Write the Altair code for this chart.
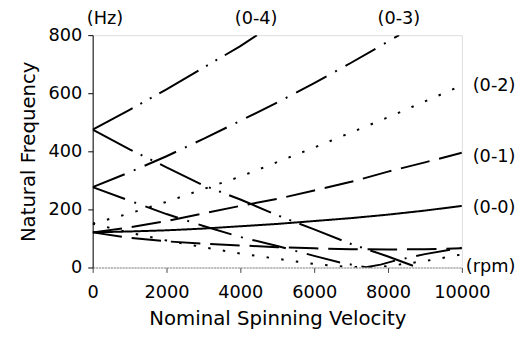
import altair as alt
import pandas as pd

# ---- data ----
modes = ["(0-0)", "(0-1)", "(0-2)", "(0-3)", "(0-4)"]

f00_x = [0, 1000, 2000, 3000, 4000, 5000, 6000, 7000, 8000, 9000, 10000]
f00_y = [121, 124, 128, 134, 142, 150, 160, 170, 182, 196, 212]

f01_x = [0, 1000, 2000, 3000, 4000, 5000, 6000, 7000, 8000, 9000, 10000]
f01_y = [121, 138, 160, 186, 212, 236, 265, 295, 330, 362, 395]
b01_x = [0, 1000, 2000, 3000, 4000, 5000, 6000, 7000, 8000, 9000, 10000]
b01_y = [121, 102, 90, 82, 76, 70, 66, 63, 62, 63, 66]

f02_x = [0, 1000, 2000, 3000, 4000, 5000, 6000, 7000, 8000, 9000, 10000]
f02_y = [151, 186, 226, 270, 313, 363, 413, 465, 517, 572, 627]
b02_x = [0, 1000, 2000, 3000, 4000, 5000, 6000, 6500, 7000, 7500, 8000, 9000, 10000]
b02_y = [151, 120, 93, 70, 48, 30, 12, 6, 2, 0, 5, 22, 45]

f03_x = [0, 1000, 2000, 3000, 4000, 5000, 6000, 7000, 8000, 8300]
f03_y = [277, 328, 383, 443, 505, 568, 635, 705, 778, 800]
b03_x = [0, 1000, 2000, 3000, 4000, 5000, 6000, 6700, 7400, 7800, 8200, 9000, 10000]
b03_y = [277, 230, 184, 143, 105, 74, 40, 17, 1, 10, 24, 46, 68]

f04_x = [0, 1000, 2000, 3000, 4000, 4450]
f04_y = [475, 543, 613, 688, 762, 800]
b04_x = [0, 1000, 2000, 3000, 4000, 5000, 6000, 7000, 8000, 8800]
b04_y = [475, 407, 345, 283, 234, 180, 131, 81, 38, 0]

x_ticks = [0, 2000, 4000, 6000, 8000, 10000]
y_ticks = [0, 200, 400, 600, 800]

branches = [
    ("(0-0)", "f00", f00_x, f00_y),
    ("(0-1)", "f01", f01_x, f01_y),
    ("(0-1)", "b01", b01_x, b01_y),
    ("(0-2)", "f02", f02_x, f02_y),
    ("(0-2)", "b02", b02_x, b02_y),
    ("(0-3)", "f03", f03_x, f03_y),
    ("(0-3)", "b03", b03_x, b03_y),
    ("(0-4)", "f04", f04_x, f04_y),
    ("(0-4)", "b04", b04_x, b04_y),
]
rows = []
for mode, br, xs, ys in branches:
    for i, (xv, yv) in enumerate(zip(xs, ys)):
        rows.append({"mode": mode, "branch": br, "order": i, "rpm": xv, "hz": yv})
df = pd.DataFrame(rows)

FONT = "DejaVu Sans"
W, H = 375, 236

lines = alt.Chart(df).mark_line(color="black", strokeWidth=2, strokeCap="butt", clip=True).encode(
    x=alt.X("rpm:Q", scale=alt.Scale(domain=[0, 10000], nice=False),
            axis=alt.Axis(values=x_ticks, format="d", title="Nominal Spinning Velocity",
                          grid=False, domainColor="#888", domainDash=[2, 1], tickColor="#444",
                          tickSize=5, labelFontSize=18, titleFontSize=20, labelPadding=11,
                          titlePadding=8, labelFont=FONT, titleFont=FONT, labelColor="black",
                          titleColor="black", titleFontWeight="normal",
                          labelOverlap=False, labelFlush=False, labelBound=False)),
    y=alt.Y("hz:Q", scale=alt.Scale(domain=[0, 800], nice=False),
            axis=alt.Axis(values=y_ticks, title="Natural Frequency", grid=False,
                          domainColor="black", tickColor="black", tickSize=5,
                          labelFontSize=18, titleFontSize=20, labelPadding=6,
                          titlePadding=10, labelFont=FONT, titleFont=FONT,
                          labelColor="black", titleColor="black", titleFontWeight="normal",
                          labelOverlap=False, labelFlush=False, labelBound=False)),
    detail="branch:N",
    order="order:Q",
    strokeDash=alt.StrokeDash("mode:N", legend=None,
                              scale=alt.Scale(domain=modes,
                                              range=[[1, 0], [30, 10], [2.5, 12.5],
                                                     [35, 10, 2, 10], [46, 9, 2, 9, 2, 9]])),
)

label_text = ["(Hz)", "(0-4)", "(0-3)", "(0-2)", "(0-1)", "(0-0)", "(rpm)"]

def lab(t, px, py, align):
    return alt.Chart(pd.DataFrame({"t": [t]})).mark_text(
        font=FONT, fontSize=18, color="black", align=align, baseline="middle"
    ).encode(text="t:N", x=alt.value(px), y=alt.value(py))

texts = [
    lab(label_text[0], -6, -16, "left"),
    lab(label_text[1], 166, -16, "center"),
    lab(label_text[2], 311, -16, "center"),
    lab(label_text[3], 386, 52, "left"),
    lab(label_text[4], 386, 124, "left"),
    lab(label_text[5], 386, 176, "left"),
    lab(label_text[6], 379, 236, "left"),
]

chart = alt.layer(lines, *texts).properties(
    width=W, height=H, autosize="none",
    padding={"left": 86, "top": 25, "right": 56, "bottom": 67},
).configure_view(stroke="#888", strokeWidth=1).configure(background="white")

chart.save("out.html", embed_options={"renderer": "svg", "actions": False})
